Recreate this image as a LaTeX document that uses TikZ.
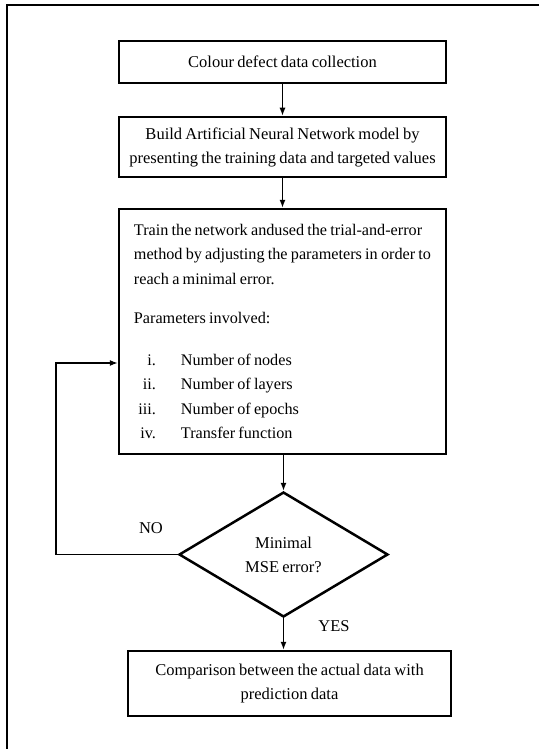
\documentclass[tikz,border=0pt]{standalone}
\usepackage{fontspec}
\setmainfont{Liberation Serif}[WordSpace=0.8]
\usetikzlibrary{shapes.geometric,arrows.meta}
\def\wid{327pt}
\def\numw{22pt}
\newcommand{\stepitem}[2]{\makebox[\numw][r]{#1}\hspace{25pt}#2}

\begin{document}
\begin{tikzpicture}[x=1pt,y=-1pt,>={Latex[length=8pt,width=6pt]},
  font=\fontsize{16.5}{24}\selectfont]
\tikzset{box/.style={draw,line width=2.5pt,minimum width=\wid,inner sep=0pt,align=center},
  decision/.style={draw,diamond,line width=2.5pt,minimum width=209pt,minimum height=125pt,inner sep=0pt,align=center},
  flow/.style={->,line width=1.2pt}}
\useasboundingbox (0,0) rectangle (539,749);
% outer frame (cut off at right and bottom)
\draw[line width=2pt] (539,5) -- (7,5) -- (7,749);
\node[box,minimum height=42pt] (collect) at (282.5,62) {Colour defect data collection};
\node[box,minimum height=60pt] (build) at (282.5,147) {Build Artificial Neural Network model by\\presenting the training data and targeted values};
\node[box,minimum height=245pt,align=left,font=\fontsize{16.2}{24.5}\selectfont] (train) at (282.5,331.5)
  {Train the network andused the trial-and-error\\
   method by adjusting the parameters in order to\hspace*{9pt}\\
   reach a minimal error.\\[15pt]
   Parameters involved:\\[17pt]
   \stepitem{i.}{Number of nodes}\\
   \stepitem{ii.}{Number of layers}\\
   \stepitem{iii.}{Number of epochs}\\
   \stepitem{iv.}{Transfer function}};
\node[decision] (dec) at (283.5,554.5) {Minimal\\MSE error?};
\node[box,minimum width=323pt,minimum height=65pt] (compare) at (289.5,683.5) {Comparison between the actual data with\\prediction data};
\coordinate (loop) at (56,363);
\node (no) at (151,528) {NO};
\node (yes) at (334,626) {YES};
\draw[flow] (collect) to (build);
\draw[flow] (build) to (train);
\draw[flow] (train.south -| dec.north) to (dec.north);
\draw[flow] (dec.south) to (dec.south |- compare.north);
\draw[flow] (dec.west) -| (loop) -- (train.west |- loop);
\end{tikzpicture}
\end{document}
